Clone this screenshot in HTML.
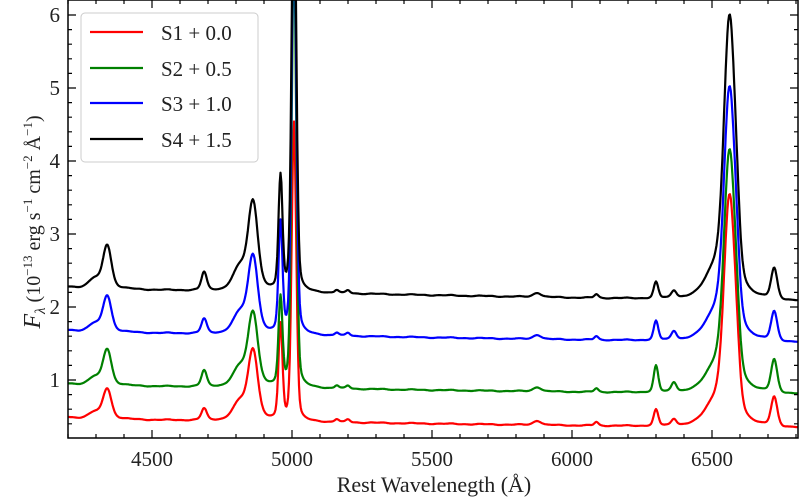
<!DOCTYPE html>
<html><head><meta charset="utf-8"><style>
html,body{margin:0;padding:0;background:#fff;}
svg{display:block;font-family:"Liberation Serif",serif;}
</style></head><body>
<svg id="s" width="800" height="499" viewBox="0 0 800 499" xmlns="http://www.w3.org/2000/svg">
<defs><clipPath id="c"><rect x="68" y="0" width="730" height="438"/></clipPath></defs>
<g id="lines" clip-path="url(#c)" fill="none" stroke-width="2.2" stroke-linejoin="round"></g>
<g id="ticks" stroke="#000" stroke-width="1.2"></g>
<rect x="68" y="0" width="730" height="438" fill="none" stroke="#000" stroke-width="1.5"/>
<g font-size="21" text-anchor="middle" fill="#222">
<text x="152" y="466">4500</text><text x="292" y="466">5000</text><text x="432" y="466">5500</text><text x="572" y="466">6000</text><text x="712" y="466">6500</text>
</g>
<g font-size="21" text-anchor="end" fill="#222">
<text x="60" y="387">1</text><text x="60" y="314">2</text><text x="60" y="241">3</text><text x="60" y="168">4</text><text x="60" y="95">5</text><text x="60" y="22">6</text>
</g>
<text x="434" y="492" font-size="22" text-anchor="middle" fill="#222">Rest Wavelenegth (Å)</text>
<text transform="translate(40,222) rotate(-90)" font-size="20" text-anchor="middle" fill="#222"><tspan font-style="italic" font-size="24">F</tspan><tspan font-style="italic" font-size="15" dy="5">λ</tspan><tspan dy="-5"> (10</tspan><tspan font-size="13" dy="-8">−13</tspan><tspan dy="8"> erg s</tspan><tspan font-size="13" dy="-8">−1</tspan><tspan dy="8"> cm</tspan><tspan font-size="13" dy="-8">−2</tspan><tspan dy="8"> Å</tspan><tspan font-size="13" dy="-8">−1</tspan><tspan dy="8">)</tspan></text>
<rect x="81" y="13" width="177" height="149" rx="4" fill="#fff" fill-opacity="0.9" stroke="#ccc" stroke-width="1"/>
<g stroke-width="2.2"><line x1="90" y1="32" x2="143" y2="32" stroke="#f00"/><line x1="90" y1="68" x2="143" y2="68" stroke="#008000"/><line x1="90" y1="103" x2="143" y2="103" stroke="#00f"/><line x1="90" y1="139" x2="143" y2="139" stroke="#000"/></g>
<g font-size="21" fill="#222"><text x="161" y="40">S1 + 0.0</text><text x="161" y="76">S2 + 0.5</text><text x="161" y="111">S3 + 1.0</text><text x="161" y="147">S4 + 1.5</text></g>
</svg>
<script>
var X=function(l){return 68+(l-4200)*0.28;},Y=function(v){return 380-(v-1)*73;};
var NS="http://www.w3.org/2000/svg",tk=document.getElementById('ticks'),d='';
for(var l=4200;l<=6800;l+=100){var x=X(l),L=(l%500==0)?8:4;d+='M'+x+' 438V'+(438-L)+'M'+x+' 0V'+L;}
for(var v=0.4;v<=6.2;v+=0.2){var vv=Math.round(v*10)/10,y=Y(vv),L=(Math.abs(vv-Math.round(vv))<0.01)?8:4;d+='M68 '+y+'H'+(68+L)+'M798 '+y+'H'+(798-L);}
var p=document.createElementNS(NS,'path');p.setAttribute('d',d);tk.appendChild(p);
function pk(l,c,a,s,g){var x=l-c;return a*(0.75*Math.exp(-x*x/(2*s*s))+0.25/(1+(x/g)*(x/g)));}
var S=[
{col:'#f00',b:0.40,sl:-0.00005,hg:0.42,he:0.16,hb:0.95,o1:1.3,o3:4.1,ha:3.1,oi:0.22,oi2:0.09,sii:0.4},
{col:'#008000',b:0.86,sl:-0.00005,hg:0.5,he:0.22,hb:1.0,o1:1.2,o3:6,ha:3.25,oi:0.36,oi2:0.13,sii:0.45},
{col:'#00f',b:1.58,sl:-0.00006,hg:0.5,he:0.2,hb:1.05,o1:1.5,o3:6,ha:3.4,oi:0.26,oi2:0.12,sii:0.4},
{col:'#000',b:2.16,sl:-0.00007,hg:0.6,he:0.25,hb:1.2,o1:1.55,o3:6,ha:3.8,oi:0.22,oi2:0.1,sii:0.42}];
var g=document.getElementById('lines');
S.forEach(function(s){var d='';for(var l=4200;l<=6810;l+=3){
var v=s.b+s.sl*(l-5500)+(l<4300?0.02*(4300-l)/100:0);
v+=pk(l,4340,s.hg,14,28)+pk(l,4295,s.hg*0.2,20,30);
v+=pk(l,4686,s.he,9,15)+pk(l,4861,s.hb,16,30)+pk(l,4815,s.hb*0.25,25,30);
v+=pk(l,4959,s.o1,7,9)+pk(l,5007,s.o3,8,10);
v+=pk(l,5876,0.06,14,18)+pk(l,6087,0.05,7,9)+pk(l,5160,0.04,7,9)+pk(l,5200,0.04,7,9);
v+=pk(l,6300,s.oi,8,10)+pk(l,6364,s.oi2,9,11);
v+=pk(l,6563,s.ha,19,34)+pk(l,6590,s.ha*0.08,10,12)+pk(l,6510,s.ha*0.08,35,45);
v+=pk(l,6722,s.sii,11,13);
v+=0.005*Math.sin(l*0.05)+0.003*Math.sin(l*0.13);
d+=(d?'L':'M')+X(l).toFixed(1)+' '+Y(v).toFixed(1);}
var p=document.createElementNS(NS,'path');p.setAttribute('d',d);p.setAttribute('stroke',s.col);g.appendChild(p);});
</script>
</body></html>
